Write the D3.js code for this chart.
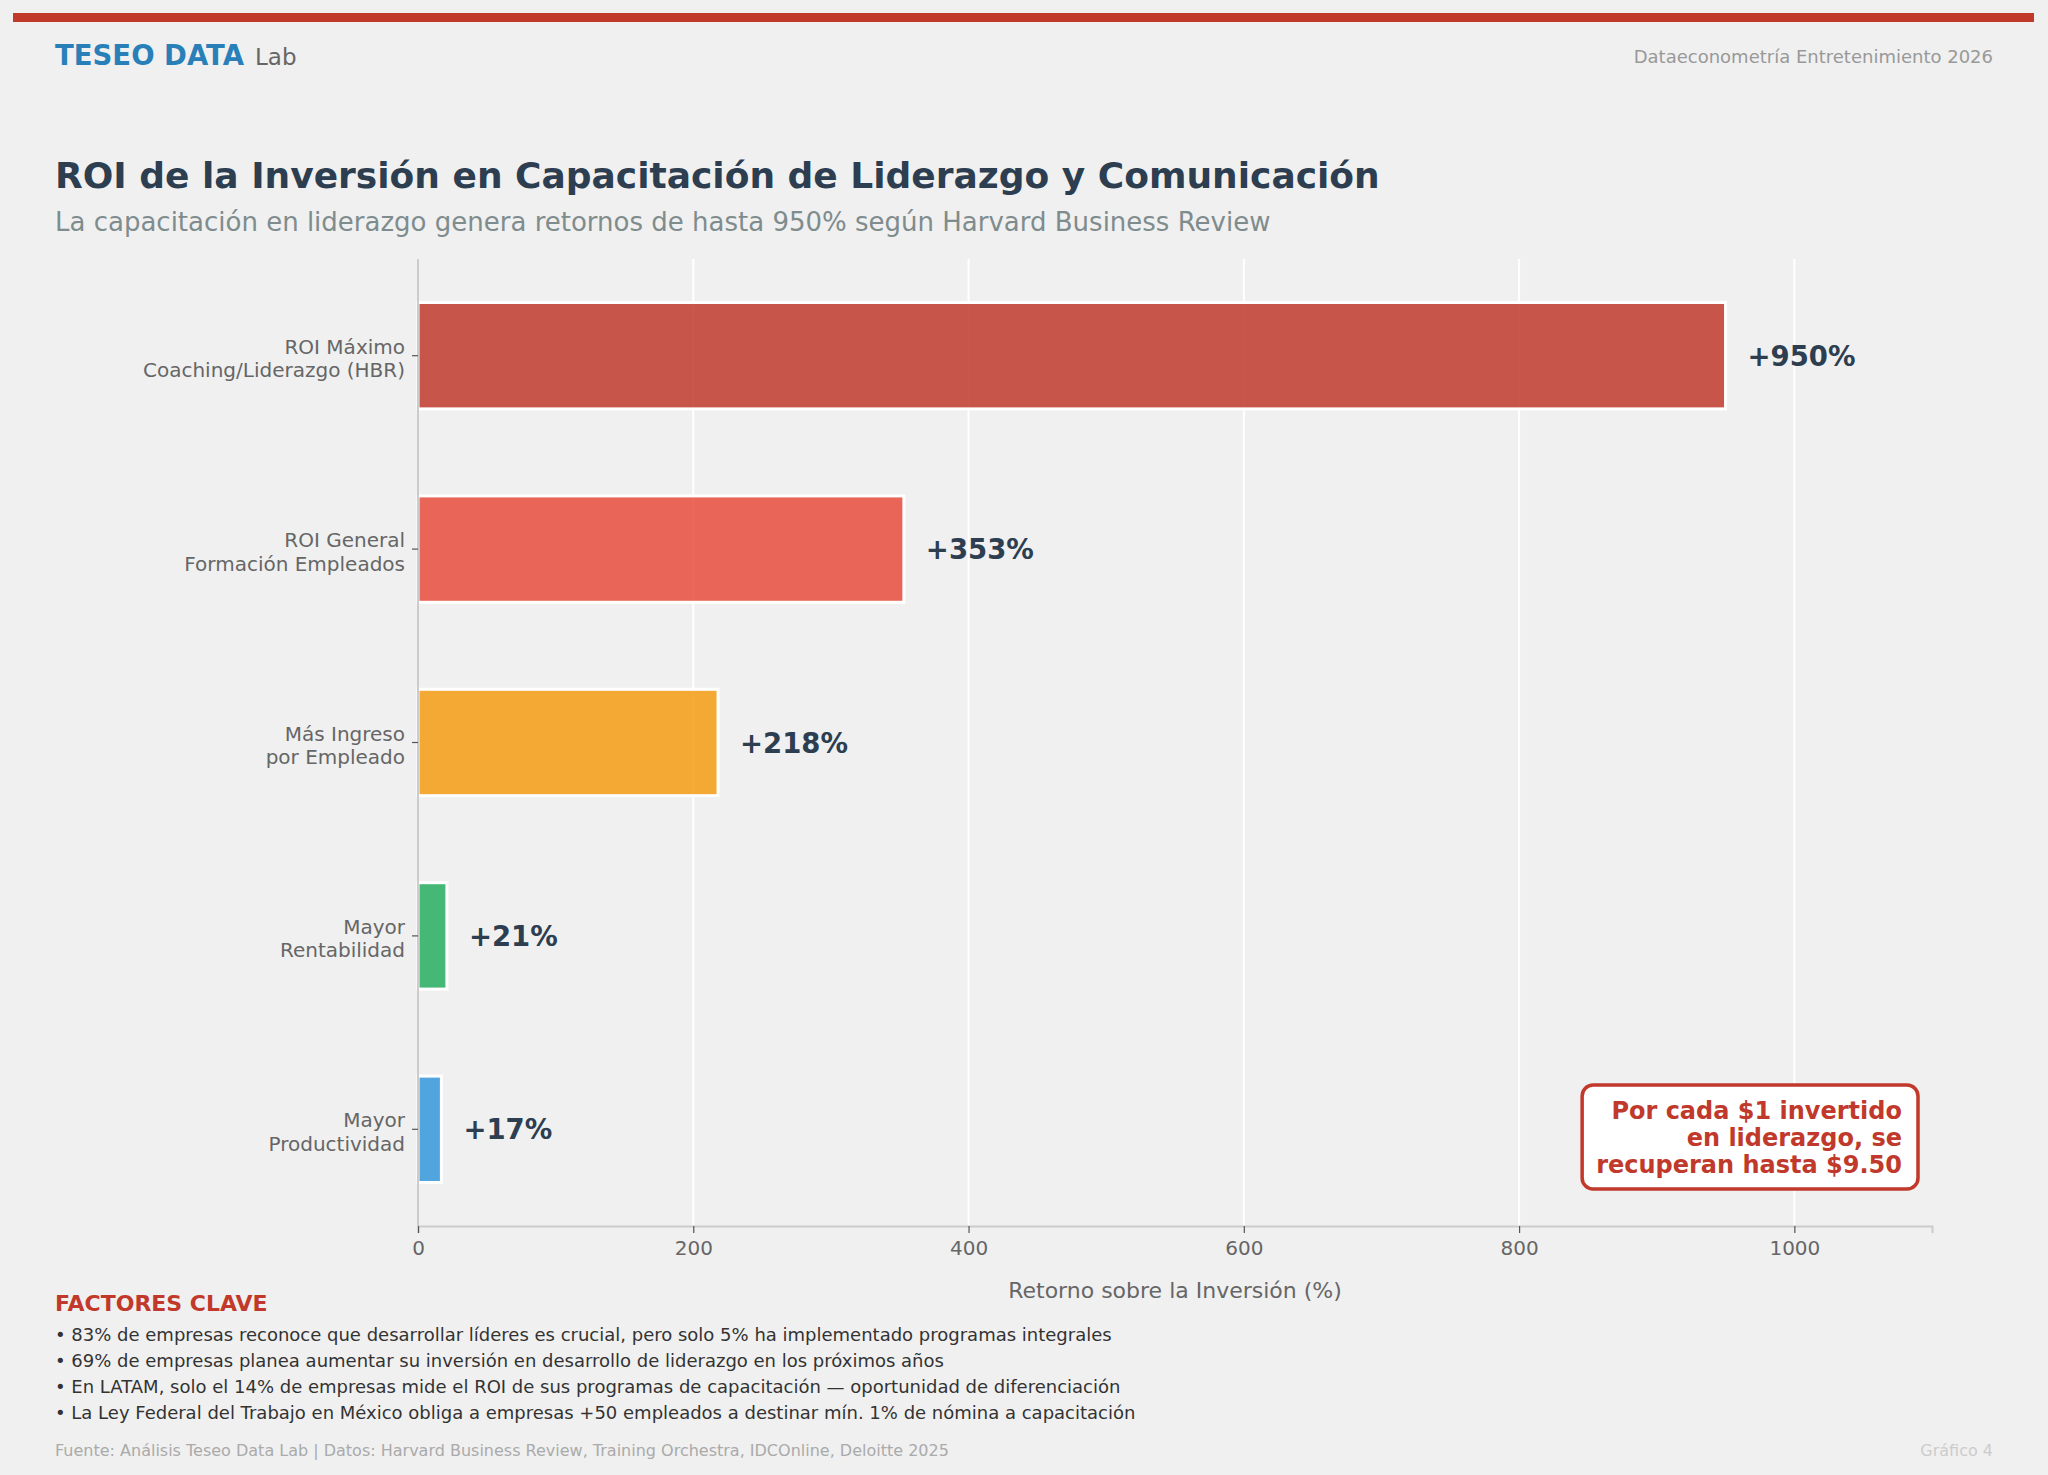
<!DOCTYPE html>
<html>
<head>
<meta charset="utf-8">
<script src="https://cdn.jsdelivr.net/npm/d3@7"></script>
<style>
  html, body { margin: 0; padding: 0; background: #f0f0f0; }
  svg { display: block; font-family: "DejaVu Sans", sans-serif; }
</style>
</head>
<body>
<svg id="chart" width="2048" height="1475"></svg>
<script>
// ---- data ----
const categories = [
  ["ROI Máximo", "Coaching/Liderazgo (HBR)"],
  ["ROI General", "Formación Empleados"],
  ["Más Ingreso", "por Empleado"],
  ["Mayor", "Rentabilidad"],
  ["Mayor", "Productividad"]
];
const values = [950, 353, 218, 21, 17];
const valueLabels = ["+950%", "+353%", "+218%", "+21%", "+17%"];
const barColors = ["#c0392b", "#e74c3c", "#f39c12", "#27ae60", "#3498db"];
const xTicks = [0, 200, 400, 600, 800, 1000];
const xDomain = [0, 1100];
const keyFacts = [
  "• 83% de empresas reconoce que desarrollar líderes es crucial, pero solo 5% ha implementado programas integrales",
  "• 69% de empresas planea aumentar su inversión en desarrollo de liderazgo en los próximos años",
  "• En LATAM, solo el 14% de empresas mide el ROI de sus programas de capacitación — oportunidad de diferenciación",
  "• La Ley Federal del Trabajo en México obliga a empresas +50 empleados a destinar mín. 1% de nómina a capacitación"
];
const calloutLines = ["Por cada $1 invertido", "en liderazgo, se", "recuperan hasta $9.50"];

// ---- layout ----
const W = 2048, H = 1475;
const plot = { left: 418, right: 1932, top: 259, bottom: 1226 };
const svg = d3.select("#chart");

svg.append("rect").attr("width", W).attr("height", H).attr("fill", "#f0f0f0");

// top red band
svg.append("rect").attr("x", 13).attr("y", 13).attr("width", 2021).attr("height", 9).attr("fill", "#c0392b");

// header brand
const brand = svg.append("text").attr("x", 55).attr("y", 65);
brand.append("tspan").attr("font-weight", "bold").attr("font-size", 27.5).attr("fill", "#2980b9").text("TESEO DATA");
brand.append("tspan").attr("fill", "#666").attr("font-size", 23).attr("dx", 11).text("Lab");

svg.append("text").attr("x", 1993).attr("y", 63).attr("text-anchor", "end")
  .attr("font-size", 18).attr("fill", "#999").text("Dataeconometría Entretenimiento 2026");

// title / subtitle
svg.append("text").attr("x", 55).attr("y", 188).attr("font-size", 36).attr("font-weight", "bold")
  .attr("fill", "#2c3e50").text("ROI de la Inversión en Capacitación de Liderazgo y Comunicación");
svg.append("text").attr("x", 55).attr("y", 231).attr("font-size", 26)
  .attr("fill", "#7f8c8d").text("La capacitación en liderazgo genera retornos de hasta 950% según Harvard Business Review");

// scales
const x = d3.scaleLinear().domain(xDomain).range([plot.left, plot.right]);
const y = d3.scaleBand().domain(d3.range(categories.length))
  .range([plot.top, plot.bottom]).paddingInner(0.45).paddingOuter(0.225);

// grid
svg.append("g").selectAll("line").data(xTicks.filter(t => t > 0)).join("line")
  .attr("x1", d => x(d)).attr("x2", d => x(d))
  .attr("y1", plot.top).attr("y2", plot.bottom)
  .attr("stroke", "#ffffff").attr("stroke-width", 2);

// bars
svg.append("g").selectAll("rect").data(values).join("rect")
  .attr("x", x(0))
  .attr("y", (d, i) => y(i))
  .attr("width", d => x(d) - x(0))
  .attr("height", y.bandwidth())
  .attr("fill", (d, i) => barColors[i])
  .attr("fill-opacity", 0.85)
  .attr("stroke", "#ffffff").attr("stroke-width", 3);

// value labels
svg.append("g").selectAll("text").data(values).join("text")
  .attr("x", d => x(d) + 22)
  .attr("y", (d, i) => y(i) + y.bandwidth() / 2)
  .attr("dominant-baseline", "central")
  .attr("font-size", 27.5).attr("font-weight", "bold").attr("fill", "#2c3e50")
  .text((d, i) => valueLabels[i]);

// x axis
const xAxis = svg.append("g").attr("transform", `translate(0,${plot.bottom})`)
  .call(d3.axisBottom(x).tickValues(xTicks).tickSize(7).tickPadding(8).tickFormat(d3.format("d")));
xAxis.select(".domain").attr("stroke", "#cccccc").attr("stroke-width", 2);
xAxis.selectAll(".tick line").attr("stroke", "#555").attr("stroke-width", 1.2);
xAxis.selectAll(".tick text").attr("font-size", 20).attr("fill", "#666")
  .attr("font-family", "DejaVu Sans, sans-serif");

svg.append("text").attr("x", (plot.left + plot.right) / 2).attr("y", 1298)
  .attr("text-anchor", "middle").attr("font-size", 22).attr("fill", "#666")
  .text("Retorno sobre la Inversión (%)");

// y axis
const yAxis = svg.append("g").attr("transform", `translate(${plot.left},0)`)
  .call(d3.axisLeft(y).tickSize(6).tickFormat(""));
yAxis.select(".domain").attr("stroke", "#cccccc").attr("stroke-width", 2).attr("d", `M0,${plot.top}V${plot.bottom}`);
yAxis.selectAll(".tick line").attr("stroke", "#555").attr("stroke-width", 1.2);

const yl = svg.append("g").selectAll("text").data(categories).join("text")
  .attr("x", plot.left - 13)
  .attr("y", (d, i) => y(i) + y.bandwidth() / 2)
  .attr("text-anchor", "end").attr("font-size", 20).attr("fill", "#666");
yl.each(function(d) {
  const t = d3.select(this);
  const baseY = +t.attr("y");
  t.selectAll("tspan").data(d).join("tspan")
    .attr("x", plot.left - 13)
    .attr("y", (s, j) => baseY - 2 + j * 23.5)
    .text(s => s);
});

// callout box
const cg = svg.append("g");
const cRight = plot.right - 30;
const ct = cg.append("text").attr("text-anchor", "end").attr("font-size", 24)
  .attr("font-weight", "bold").attr("fill", "#c0392b");
ct.selectAll("tspan").data(calloutLines).join("tspan")
  .attr("x", cRight).attr("y", (d, i) => 1119 + i * 27).text(d => d);
const bb = ct.node().getBBox();
cg.insert("rect", "text")
  .attr("x", bb.x - 14).attr("y", bb.y - 12)
  .attr("width", bb.width + 30).attr("height", bb.height + 22)
  .attr("rx", 11).attr("fill", "#ffffff").attr("stroke", "#c0392b").attr("stroke-width", 3.5);

// key facts
svg.append("text").attr("x", 55).attr("y", 1311).attr("font-size", 22).attr("font-weight", "bold")
  .attr("fill", "#c0392b").text("FACTORES CLAVE");
svg.append("g").selectAll("text").data(keyFacts).join("text")
  .attr("x", 55).attr("y", (d, i) => 1341 + i * 26)
  .attr("font-size", 18).attr("fill", "#333").text(d => d);

// footer
svg.append("text").attr("x", 55).attr("y", 1456).attr("font-size", 16)
  .attr("fill", "#aaa").text("Fuente: Análisis Teseo Data Lab | Datos: Harvard Business Review, Training Orchestra, IDCOnline, Deloitte 2025");
svg.append("text").attr("x", 1993).attr("y", 1456).attr("text-anchor", "end").attr("font-size", 16)
  .attr("fill", "#ccc").text("Gráfico 4");
</script>
</body>
</html>
